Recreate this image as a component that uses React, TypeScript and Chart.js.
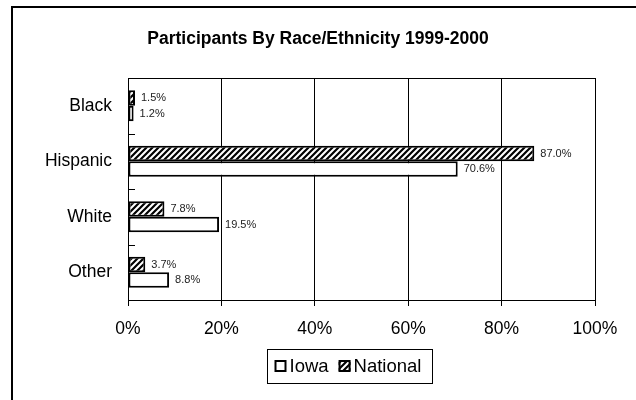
import React, { useEffect, useRef } from 'react';
import { Chart, registerables } from 'chart.js';

Chart.register(...registerables);

const titleText = 'Participants By Race/Ethnicity 1999-2000';
const categories = ['Black', 'Hispanic', 'White', 'Other'];
const seriesNames = ['Iowa', 'National'];
const iowaValues = [1.2, 70.6, 19.5, 8.8];
const nationalValues = [1.5, 87.0, 7.8, 3.7];
const xTickValues = [0, 20, 40, 60, 80, 100];

const FONT = '"Liberation Sans", Arial, sans-serif';

function makeHatch(): CanvasPattern | string {
  const c = document.createElement('canvas');
  c.width = 6;
  c.height = 6;
  const g = c.getContext('2d');
  if (!g) return '#000';
  g.fillStyle = '#fff';
  g.fillRect(0, 0, 6, 6);
  g.strokeStyle = '#000';
  g.lineWidth = 2.2;
  g.beginPath();
  g.moveTo(-1, 7); g.lineTo(7, -1);
  g.moveTo(-4, 4); g.lineTo(4, -4);
  g.moveTo(2, 10); g.lineTo(10, 2);
  g.stroke();
  const p = g.createPattern(c, 'repeat');
  return p || '#000';
}

const decorPlugin = {
  id: 'decor',
  beforeDatasetsDraw(chart: any) {
    const { ctx, chartArea } = chart;
    ctx.save();
    ctx.strokeStyle = '#000';
    ctx.lineWidth = 1;
    const top = Math.round(chartArea.top) + 0.5;
    ctx.beginPath();
    ctx.moveTo(chartArea.left, top);
    ctx.lineTo(chartArea.right, top);
    ctx.stroke();
    const y = chart.scales.y;
    ctx.beginPath();
    for (let i = 1; i < categories.length; i++) {
      const p = Math.round((y.getPixelForTick(i - 1) + y.getPixelForTick(i)) / 2) + 0.5;
      ctx.moveTo(chartArea.left, p);
      ctx.lineTo(chartArea.left + 7, p);
    }
    ctx.stroke();
    ctx.restore();
  },
  afterDatasetsDraw(chart: any) {
    const { ctx } = chart;
    ctx.save();
    ctx.font = `11px ${FONT}`;
    ctx.fillStyle = '#222';
    ctx.textAlign = 'left';
    ctx.textBaseline = 'middle';
    chart.data.datasets.forEach((ds: any, di: number) => {
      const meta = chart.getDatasetMeta(di);
      meta.data.forEach((bar: any, i: number) => {
        const v = ds.data[i];
        ctx.fillText(v.toFixed(1) + '%', bar.x + 6, bar.y);
      });
    });
    ctx.restore();
  },
  afterDraw(chart: any) {
    const { ctx } = chart;
    const dsByName: any = {};
    chart.data.datasets.forEach((d: any) => { dsByName[d.label] = d; });
    const items = seriesNames.map((n) => ({ label: n, ds: dsByName[n] }));
    ctx.save();
    ctx.font = `18.5px ${FONT}`;
    const sw = 12, gap = 3, itemGap = 10, padL = 7, padR = 11;
    const widths = items.map((it) => sw + gap + ctx.measureText(it.label).width);
    const total = widths.reduce((a, b) => a + b, 0) + itemGap * (items.length - 1);
    const boxW = total + padL + padR;
    const cx = chart.width / 2 + 31.5;
    const cy = 366;
    const boxL = Math.round(cx - boxW / 2) + 0.5;
    ctx.strokeStyle = '#000';
    ctx.lineWidth = 1;
    ctx.strokeRect(boxL, cy - 17 + 0.5, Math.round(boxW), 34);
    let x = boxL + padL;
    items.forEach((it, i) => {
      const sy = Math.round(cy - sw / 2);
      ctx.fillStyle = it.ds.backgroundColor;
      ctx.fillRect(x, sy, sw, sw);
      ctx.lineWidth = 2;
      ctx.strokeStyle = '#000';
      ctx.strokeRect(x + 1, sy + 1, sw - 2, sw - 2);
      ctx.fillStyle = '#000';
      ctx.textAlign = 'left';
      ctx.textBaseline = 'middle';
      ctx.fillText(it.label, x + sw + gap, cy + 1);
      x += widths[i] + itemGap;
    });
    ctx.restore();
  },
};

export default function App() {
  const ref = useRef<HTMLCanvasElement | null>(null);

  useEffect(() => {
    if (!ref.current) return;
    Chart.defaults.font.family = FONT;
    const hatch = makeHatch();
    const chart = new Chart(ref.current, {
      type: 'bar',
      data: {
        labels: categories,
        datasets: [
          {
            label: seriesNames[1],
            data: nationalValues,
            backgroundColor: hatch as any,
            borderColor: '#000',
            borderWidth: 2,
            borderSkipped: false,
          },
          {
            label: seriesNames[0],
            data: iowaValues,
            backgroundColor: '#fff',
            borderColor: '#000',
            borderWidth: 2,
            borderSkipped: false,
          },
        ],
      },
      options: {
        indexAxis: 'y',
        responsive: false,
        animation: false,
        devicePixelRatio: 1,
        layout: { padding: { left: 0, right: 0, top: 0, bottom: 0 } },
        datasets: {
          bar: { categoryPercentage: 0.56, barPercentage: 1.0 },
        },
        plugins: {
          legend: { display: false },
          tooltip: { enabled: false },
          title: {
            display: true,
            text: titleText,
            color: '#000',
            font: { size: 17.5, weight: 'bold', family: FONT },
            padding: { top: 29, bottom: 28 },
          },
        },
        scales: {
          x: {
            type: 'linear',
            position: 'bottom',
            min: 0,
            max: 100,
            afterBuildTicks: (scale: any) => {
              scale.ticks = xTickValues.map((v) => ({ value: v }));
            },
            afterFit: (scale: any) => {
              scale.height = 100;
            },
            grid: {
              display: true,
              color: '#000',
              lineWidth: 1,
              drawTicks: true,
              tickLength: 6,
              tickColor: '#000',
            },
            border: { display: true, color: '#000', width: 1 },
            ticks: {
              color: '#000',
              font: { size: 17.5, family: FONT },
              padding: 13,
              maxRotation: 0,
              callback: (v: any) => `${v}%`,
            },
          },
          y: {
            type: 'category',
            position: 'left',
            afterFit: (scale: any) => {
              scale.width = 128;
            },
            grid: { display: false, drawTicks: false },
            border: { display: true, color: '#000', width: 1 },
            ticks: {
              color: '#000',
              font: { size: 17.5, family: FONT },
              padding: 16,
            },
          },
          y2: {
            type: 'linear',
            position: 'right',
            display: true,
            afterFit: (scale: any) => {
              scale.width = 41;
            },
            grid: { display: false, drawTicks: false },
            border: { display: false },
            ticks: { display: false },
          },
        },
      },
      plugins: [decorPlugin],
    } as any);
    return () => chart.destroy();
  }, []);

  return (
    <>
      <div
        style={{
          position: 'fixed',
          left: 11,
          top: 6,
          width: 700,
          height: 500,
          borderLeft: '2px solid #000',
          borderTop: '2px solid #000',
          boxSizing: 'border-box',
        }}
      />
      <div style={{ position: 'fixed', left: 0, top: 0, width: 636, height: 400 }}>
        <canvas ref={ref} width={636} height={400} style={{ display: 'block' }} />
      </div>
    </>
  );
}
